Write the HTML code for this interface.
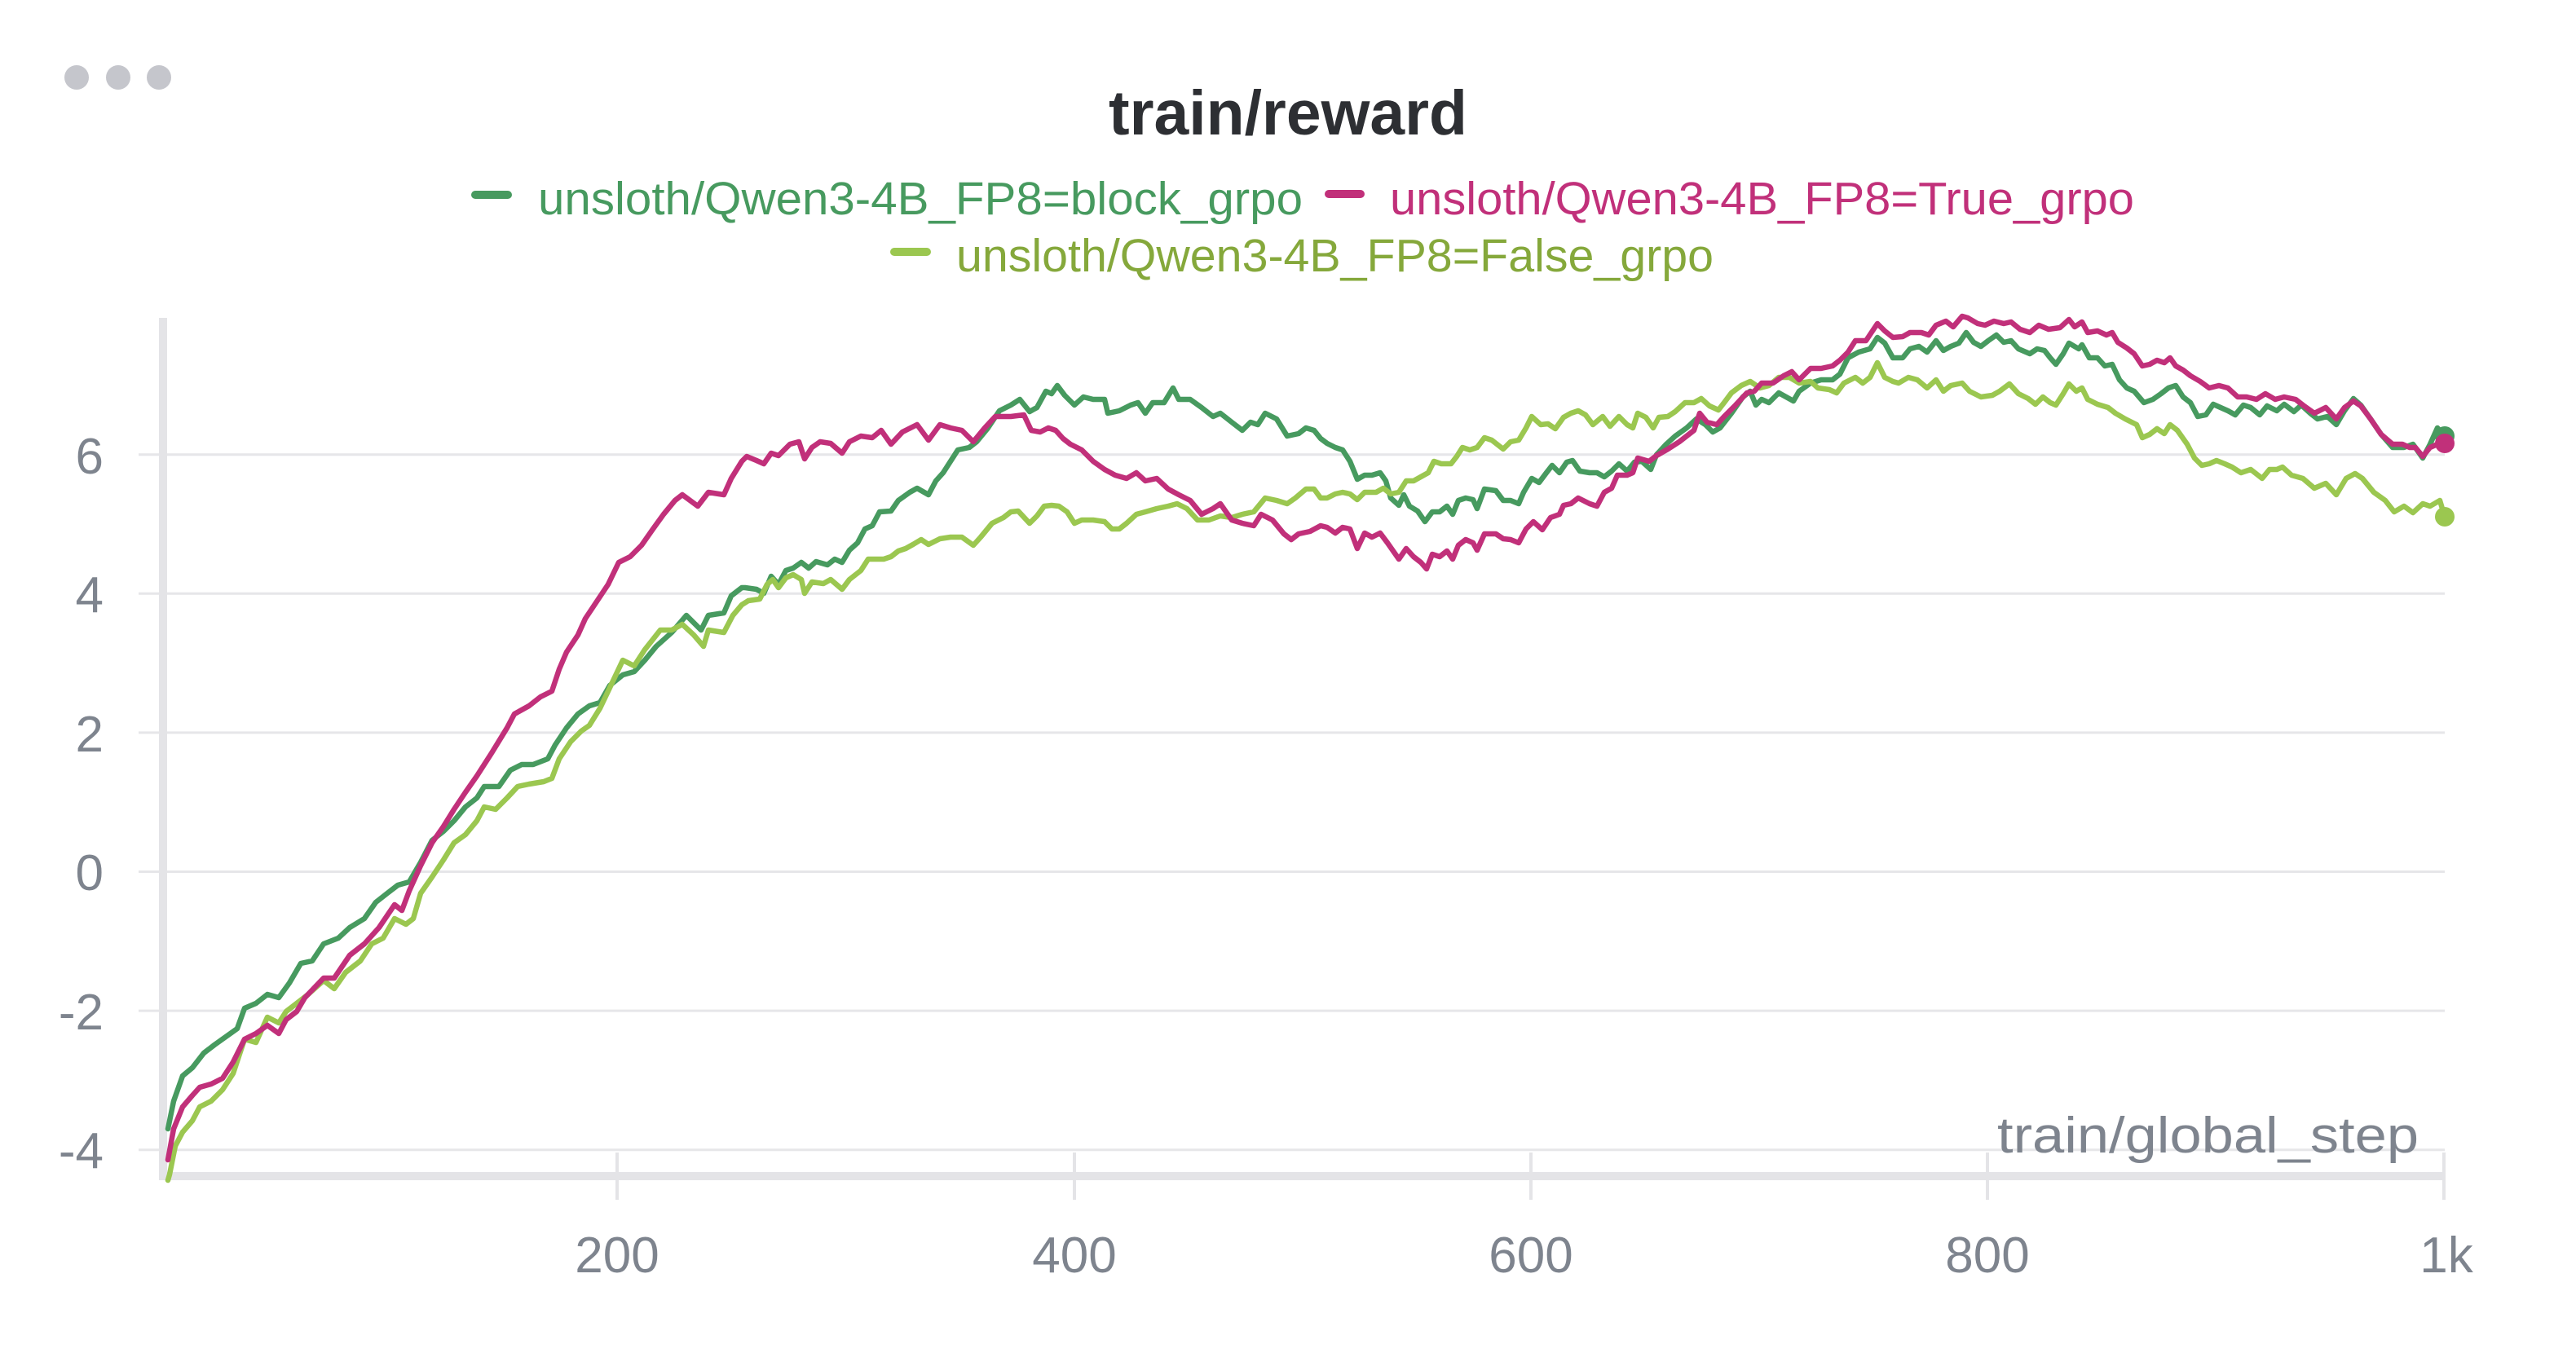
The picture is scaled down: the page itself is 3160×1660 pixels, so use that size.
<!DOCTYPE html>
<html>
<head>
<meta charset="utf-8">
<style>
html,body{margin:0;padding:0;background:#ffffff;}
body{width:3160px;height:1660px;overflow:hidden;}
svg{display:block;}
text{font-family:"Liberation Sans",Arial,sans-serif;}
</style>
</head>
<body>
<svg width="3160" height="1660" viewBox="0 0 3160 1660" xmlns="http://www.w3.org/2000/svg">
<rect x="0" y="0" width="3160" height="1660" fill="#ffffff"/>
<!-- menu dots -->
<circle cx="94" cy="95" r="15" fill="#c5c6cc"/>
<circle cx="145" cy="95" r="15" fill="#c5c6cc"/>
<circle cx="195" cy="95" r="15" fill="#c5c6cc"/>
<!-- title -->
<text x="1580" y="165" text-anchor="middle" font-size="77" font-weight="bold" fill="#2d2f33" textLength="440" lengthAdjust="spacingAndGlyphs">train/reward</text>
<!-- legend -->
<rect x="578" y="234" width="50" height="10" rx="5" fill="#479a5f"/>
<text x="660" y="263" font-size="57" fill="#479a5f" textLength="938" lengthAdjust="spacingAndGlyphs">unsloth/Qwen3-4B_FP8=block_grpo</text>
<rect x="1625" y="233" width="49" height="10" rx="5" fill="#c1307a"/>
<text x="1705" y="263" font-size="57" fill="#c1307a" textLength="913" lengthAdjust="spacingAndGlyphs">unsloth/Qwen3-4B_FP8=True_grpo</text>
<rect x="1092" y="304" width="50" height="10" rx="5" fill="#9bc750"/>
<text x="1173" y="333" font-size="57" fill="#85a83b" textLength="929" lengthAdjust="spacingAndGlyphs">unsloth/Qwen3-4B_FP8=False_grpo</text>

<!-- gridlines -->
<g stroke="#e6e6e9" stroke-width="3">
<line x1="170" y1="557.7" x2="2999" y2="557.7"/>
<line x1="170" y1="728.3" x2="2999" y2="728.3"/>
<line x1="170" y1="898.9" x2="2999" y2="898.9"/>
<line x1="170" y1="1069.5" x2="2999" y2="1069.5"/>
<line x1="170" y1="1240.1" x2="2999" y2="1240.1"/>
<line x1="170" y1="1410.7" x2="2999" y2="1410.7"/>
</g>
<!-- axes -->
<rect x="195" y="390" width="10" height="1058" fill="#e4e4e7"/>
<rect x="200" y="1438" width="2799" height="10" fill="#e4e4e7"/>
<g fill="#e4e4e7">
<rect x="755" y="1414" width="4" height="58"/>
<rect x="1316" y="1414" width="4" height="58"/>
<rect x="1876" y="1414" width="4" height="58"/>
<rect x="2436" y="1414" width="4" height="58"/>
<rect x="2996" y="1414" width="4" height="58"/>
</g>
<!-- y tick labels -->
<g font-size="62" fill="#7e848e" text-anchor="end">
<text x="127" y="581">6</text>
<text x="127" y="751">4</text>
<text x="127" y="922">2</text>
<text x="127" y="1092">0</text>
<text x="127" y="1263">-2</text>
<text x="127" y="1433">-4</text>
</g>
<!-- x tick labels -->
<g font-size="62" fill="#7e848e" text-anchor="middle">
<text x="757" y="1561">200</text>
<text x="1318" y="1561">400</text>
<text x="1878" y="1561">600</text>
<text x="2438" y="1561">800</text>
<text x="3001" y="1561">1k</text>
</g>
<text x="2450" y="1414" font-size="62" fill="#7e848e" textLength="517" lengthAdjust="spacingAndGlyphs">train/global_step</text>

<!-- series -->
<g fill="none" stroke-width="6.5" stroke-linejoin="round" stroke-linecap="round">
<polyline stroke="#479a5f" points="206,1385 213,1351 224,1320 236,1310 250,1292 263,1282 277,1272 291,1262 300,1237 314,1231 328,1220 342,1224 355,1206 369,1182 383,1179 397,1158 415,1151 429,1138 447,1127 461,1107 475,1096 488,1086 502,1082 516,1058 530,1031 544,1020 557,1007 571,990 585,979 594,965 612,965 626,945 640,938 654,938 672,931 681,914 695,893 709,876 723,866 736,862 748,841 764,828 778,824 791,810 805,793 824,776 842,755 860,773 869,755 888,752 897,731 910,721 914,721 928,723 937,728 946,707 955,717 964,700 973,697 983,690 992,697 1001,689 1015,693 1024,686 1033,690 1042,675 1052,666 1061,649 1070,645 1079,628 1093,627 1102,614 1116,604 1125,599 1139,607 1148,590 1157,580 1166,566 1175,552 1189,549 1198,542 1212,525 1226,504 1240,497 1251,490 1263,505 1272,500 1283,480 1290,483 1297,473 1306,485 1318,497 1329,487 1341,490 1355,490 1359,507 1373,504 1387,497 1396,494 1405,507 1414,494 1428,494 1439,476 1446,490 1460,490 1474,500 1488,511 1497,507 1511,518 1524,528 1534,518 1543,521 1552,507 1566,514 1579,535 1593,532 1602,525 1612,528 1620,538 1628,544 1638,549 1647,552 1656,566 1665,588 1674,583 1683,583 1693,580 1700,590 1706,611 1716,620 1722,607 1729,621 1739,627 1748,640 1757,628 1766,628 1775,621 1782,631 1789,614 1798,611 1807,613 1812,624 1821,600 1835,602 1844,614 1853,614 1863,618 1869,604 1879,587 1888,592 1897,580 1904,571 1913,580 1922,567 1929,565 1938,578 1950,580 1959,580 1968,585 1977,578 1986,569 1996,578 2005,567 2014,566 2025,576 2032,558 2044,545 2055,535 2069,525 2081,514 2092,521 2101,530 2110,525 2124,507 2138,487 2147,480 2154,497 2161,490 2170,494 2182,482 2191,487 2200,492 2207,480 2221,470 2234,466 2248,466 2257,459 2267,439 2280,432 2294,428 2303,414 2312,421 2322,439 2334,439 2343,428 2354,425 2364,432 2375,418 2384,430 2393,425 2403,421 2412,408 2421,420 2430,425 2439,418 2449,411 2458,420 2467,418 2476,428 2490,434 2499,428 2508,430 2515,439 2522,447 2531,434 2538,421 2550,428 2554,423 2563,439 2573,439 2582,449 2591,447 2600,466 2609,476 2618,480 2630,494 2641,490 2651,483 2660,476 2669,473 2678,487 2687,494 2696,511 2706,509 2715,496 2724,500 2733,504 2742,509 2752,497 2761,500 2772,509 2781,498 2793,504 2802,496 2814,505 2823,497 2834,507 2843,514 2855,511 2866,521 2876,504 2887,489 2896,497 2908,514 2921,533 2935,549 2949,549 2960,545 2972,562 2981,545 2990,525 2999,535"/>
<polyline stroke="#9bc750" points="206,1448 208,1441 215,1406 224,1389 236,1375 245,1358 259,1351 273,1337 286,1317 300,1275 314,1279 328,1248 342,1255 351,1241 364,1231 378,1220 397,1203 410,1213 424,1193 442,1179 456,1158 470,1151 484,1127 498,1134 507,1127 516,1096 530,1076 544,1055 557,1034 571,1024 585,1007 594,990 608,993 622,979 635,965 649,962 667,959 677,955 686,931 700,910 713,897 723,890 736,869 746,848 764,810 778,817 791,797 810,773 824,773 837,766 851,779 863,793 869,773 888,776 899,755 910,742 918,737 932,735 941,717 948,711 955,721 964,709 973,705 983,711 987,728 996,714 1010,716 1019,711 1033,723 1042,711 1056,700 1065,686 1074,686 1084,686 1093,683 1102,676 1111,673 1120,668 1130,662 1139,668 1153,661 1166,659 1180,659 1194,669 1203,659 1217,642 1231,635 1240,628 1249,627 1263,642 1272,633 1281,621 1290,620 1299,621 1309,628 1318,642 1327,638 1341,638 1355,640 1364,649 1373,649 1382,642 1394,631 1405,628 1419,624 1433,621 1444,618 1456,624 1469,638 1483,638 1497,633 1511,635 1524,631 1538,628 1552,611 1566,614 1579,618 1589,611 1602,600 1612,600 1620,611 1628,611 1638,606 1647,604 1656,606 1665,613 1674,604 1688,604 1697,599 1706,606 1716,604 1725,590 1734,590 1743,585 1752,580 1759,566 1768,569 1780,569 1787,560 1794,549 1803,552 1812,549 1821,537 1830,540 1844,551 1853,542 1863,540 1872,525 1879,511 1890,521 1899,520 1908,526 1918,512 1927,507 1936,504 1945,509 1954,521 1966,511 1975,523 1986,511 1996,521 2003,525 2009,507 2019,512 2028,525 2035,512 2046,511 2055,505 2067,494 2078,494 2087,489 2097,498 2108,503 2115,494 2124,482 2136,473 2147,468 2159,476 2170,473 2182,463 2195,463 2207,470 2221,468 2230,476 2244,478 2253,482 2262,470 2276,463 2285,470 2294,463 2303,445 2312,463 2322,468 2329,470 2341,463 2352,466 2364,476 2375,466 2384,480 2393,473 2407,470 2416,480 2430,487 2444,485 2453,480 2465,471 2476,483 2488,489 2497,496 2506,487 2515,494 2522,497 2531,483 2538,471 2547,480 2554,476 2561,490 2573,496 2586,500 2595,507 2607,514 2621,521 2628,537 2637,533 2646,526 2655,532 2662,521 2671,528 2683,545 2692,562 2701,571 2710,569 2719,565 2729,569 2738,573 2749,580 2761,576 2775,587 2784,576 2793,576 2800,573 2811,583 2825,587 2839,599 2853,593 2866,607 2878,587 2889,581 2898,587 2912,604 2926,614 2937,628 2949,621 2960,629 2972,618 2981,621 2993,614 2999,634"/>
<polyline stroke="#c1307a" points="206,1423 213,1385 224,1358 236,1344 245,1334 259,1330 273,1323 286,1303 300,1275 314,1268 328,1258 342,1268 351,1251 364,1241 374,1224 397,1200 410,1200 429,1172 447,1158 465,1138 484,1110 493,1117 502,1093 516,1062 530,1034 544,1014 557,993 571,972 585,952 603,924 622,893 631,876 649,866 663,855 677,848 686,821 695,800 709,779 718,759 732,738 746,717 759,690 773,683 787,669 801,649 814,631 828,614 837,607 856,621 869,604 888,607 897,587 910,566 916,560 928,565 937,569 946,556 955,559 969,545 980,542 987,563 996,549 1006,542 1019,544 1033,556 1042,542 1056,535 1070,537 1081,528 1093,545 1107,530 1125,521 1139,540 1153,521 1166,525 1180,528 1194,542 1208,525 1221,511 1240,511 1256,509 1265,528 1276,530 1286,525 1295,528 1304,538 1313,545 1327,552 1341,566 1355,576 1368,583 1382,587 1394,580 1405,590 1419,587 1433,600 1446,607 1460,614 1474,631 1488,624 1497,618 1511,638 1524,642 1538,645 1547,631 1561,638 1575,655 1584,662 1593,655 1607,652 1620,645 1628,647 1638,654 1647,647 1656,649 1665,673 1674,654 1683,659 1693,654 1702,666 1716,686 1725,673 1734,683 1743,690 1750,698 1757,680 1766,683 1775,676 1782,686 1789,669 1798,662 1807,666 1812,675 1821,655 1835,655 1844,661 1853,662 1863,666 1872,649 1881,640 1892,650 1902,635 1913,631 1918,620 1927,618 1936,611 1950,618 1959,621 1968,604 1977,599 1984,583 1996,583 2003,580 2009,562 2023,566 2032,559 2046,551 2060,542 2069,535 2078,528 2085,507 2094,518 2106,521 2115,511 2129,497 2143,482 2152,480 2161,470 2175,470 2188,461 2198,456 2207,466 2221,452 2234,452 2248,449 2257,442 2267,432 2276,418 2289,418 2303,397 2312,406 2322,414 2334,413 2343,408 2357,408 2366,411 2375,399 2387,394 2396,401 2407,388 2414,390 2426,397 2435,399 2446,394 2458,397 2467,395 2478,404 2490,408 2501,399 2513,404 2527,402 2538,392 2545,401 2554,395 2561,408 2573,406 2584,411 2591,408 2598,420 2609,427 2618,434 2628,449 2637,447 2646,442 2655,445 2662,439 2669,449 2678,454 2687,461 2699,468 2710,476 2722,473 2733,476 2745,487 2756,487 2768,490 2779,483 2791,490 2802,487 2816,490 2825,497 2839,507 2853,500 2866,514 2876,500 2887,492 2896,498 2908,514 2921,533 2935,545 2947,545 2956,549 2963,549 2972,560 2981,549 2990,545 2999,544"/>
</g>
<!-- end dots -->
<circle cx="2999" cy="535" r="12" fill="#479a5f"/>
<circle cx="2999" cy="544" r="12" fill="#c1307a"/>
<circle cx="2999" cy="634" r="12" fill="#9bc750"/>
</svg>
</body>
</html>
